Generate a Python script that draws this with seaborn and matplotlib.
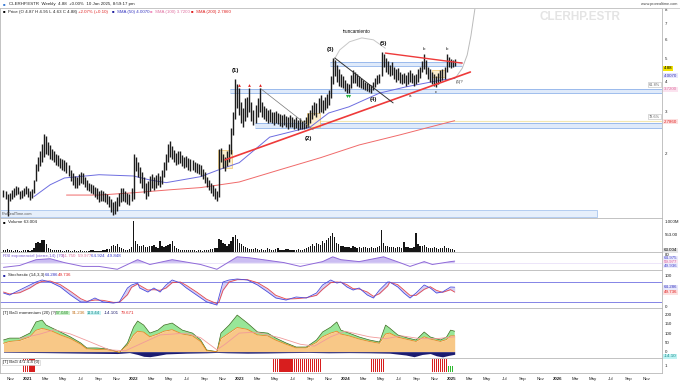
import numpy as np
import pandas as pd
import matplotlib
matplotlib.use("Agg")
import matplotlib.pyplot as plt
import matplotlib.dates as mdates
import matplotlib.transforms as mtransforms
from matplotlib.patches import Rectangle
from matplotlib.lines import Line2D
from matplotlib.ticker import FixedLocator, NullLocator, FixedFormatter
import seaborn as sns

# ---------------- data ----------------
first_week = "2020-10-09"
n_weeks = 223
bar_low = [
 1.33,1.30,1.10,1.28,1.30,1.32,1.35,1.36,1.30,1.31,1.34,1.36,1.33,1.29,1.31,1.38,
 1.55,1.70,1.78,1.85,1.95,2.00,1.98,1.90,1.88,1.85,1.80,1.78,1.75,1.72,1.70,1.66,
 1.62,1.55,1.48,1.44,1.45,1.48,1.52,1.50,1.46,1.42,1.40,1.38,1.36,1.33,1.30,1.26,
 1.28,1.27,1.26,1.24,1.20,1.15,1.12,1.13,1.16,1.22,1.26,1.28,1.26,1.24,1.23,1.28,
 1.30,1.70,1.60,1.52,1.45,1.38,1.30,1.34,1.40,1.44,1.42,1.45,1.48,1.46,1.50,1.60,
 1.72,1.85,1.95,1.90,1.85,1.80,1.82,1.84,1.78,1.75,1.76,1.72,1.70,1.72,1.68,1.66,
 1.65,1.62,1.58,1.52,1.46,1.42,1.38,1.34,1.30,1.27,1.32,1.85,1.75,1.70,1.78,1.85,
 2.00,2.40,2.80,3.10,2.90,2.70,2.60,2.75,2.85,3.00,2.75,2.65,2.70,2.85,3.00,2.85,
 2.80,2.75,2.70,2.72,2.68,2.65,2.70,2.66,2.62,2.60,2.63,2.58,2.55,2.60,2.58,2.54,
 2.56,2.52,2.55,2.54,2.55,2.56,2.60,2.70,2.80,2.90,2.85,2.95,3.00,2.95,3.05,3.10,
 3.20,3.40,3.90,4.20,4.00,3.85,3.80,3.75,3.65,3.60,3.60,3.75,3.95,3.95,3.85,3.80,
 3.75,3.72,3.68,3.65,3.62,3.60,3.68,3.80,3.90,3.95,4.20,4.60,4.40,4.30,4.20,4.25,
 4.10,4.00,4.05,3.95,3.90,3.95,3.85,3.90,4.00,3.95,3.85,3.90,4.00,4.15,4.40,4.50,
 4.30,4.10,4.00,3.90,3.85,3.80,3.90,4.00,4.05,4.10,4.40,4.60,4.55,4.60,4.63]
bar_high = [
 1.42,1.40,1.36,1.38,1.42,1.45,1.47,1.46,1.40,1.42,1.45,1.47,1.44,1.40,1.43,1.56,
 1.82,1.95,2.05,2.20,2.43,2.38,2.25,2.18,2.10,2.05,2.00,1.98,1.92,1.90,1.88,1.85,
 1.80,1.72,1.66,1.62,1.60,1.65,1.68,1.66,1.60,1.56,1.52,1.50,1.48,1.46,1.44,1.40,
 1.42,1.40,1.38,1.36,1.34,1.30,1.26,1.28,1.32,1.38,1.44,1.44,1.40,1.38,1.36,1.45,
 2.00,1.95,1.86,1.76,1.68,1.60,1.52,1.55,1.62,1.65,1.60,1.64,1.66,1.62,1.72,1.85,
 2.00,2.20,2.27,2.15,2.08,2.02,2.05,2.06,1.98,1.95,1.96,1.92,1.90,1.88,1.86,1.84,
 1.82,1.80,1.74,1.68,1.60,1.56,1.52,1.48,1.44,1.40,2.10,2.12,2.00,1.95,2.05,2.20,
 2.57,3.00,4.10,3.90,3.75,3.30,3.10,3.40,3.45,3.75,3.30,3.05,3.20,3.40,3.75,3.30,
 3.15,3.10,3.05,3.08,3.00,2.98,3.02,2.95,2.92,2.90,2.93,2.88,2.85,2.90,2.86,2.80,
 2.84,2.78,2.82,2.75,2.78,2.85,2.95,3.05,3.20,3.30,3.25,3.40,3.50,3.35,3.45,3.55,
 3.70,4.20,5.00,4.90,4.70,4.50,4.30,4.20,4.05,3.95,3.90,4.25,4.46,4.40,4.30,4.20,
 4.12,4.05,4.00,3.95,3.90,3.88,3.98,4.15,4.25,4.30,5.30,5.20,5.00,4.85,4.70,4.80,
 4.60,4.50,4.55,4.40,4.30,4.35,4.25,4.40,4.45,4.35,4.25,4.30,4.50,4.60,4.85,5.20,
 4.90,4.60,4.50,4.40,4.30,4.20,4.35,4.45,4.50,4.60,5.20,5.05,4.95,4.92,4.95]
volume_k = (
 [60,50,110,70,50,40,60,50,40,45,55,60,50,45,70,120]
 + [280,330,300,390,400,260]
 + [120,90,80,60,70,50,60,45,40,50,60,40,45,50,40,35,50,45,40,35,40,60,50,45,40,35,40,60,80,90,110]
 + [180,230,200,260,170,140]
 + [90,80,70,100,150]
 + [1000]
 + [350,260,200,180,240,170,150,200,180,230,160,140,370,200,150,180,220,250,370,200]
 + [120,90,70,60,80,60,50,70,60,50,45,60,50,40,60,80,70,90,100,120,140]
 + [420,380,300,250,200,260,350,480,550,420,300,250,200]
 + [150,120,100,90,110,140,100,80,90,70,60,120,90,80,70,100,130,80,70,60,90,110,80,70,60,80,100,70,60,90,120,150]
 + [200,260,180,300,250,220,350,280,400,450,520,600,480,300,250]
 + [200,180,150,170,160,140,180,150,130,160,140,170,150,130,120,160,140,130,150,180]
 + [720]
 + [300,200,180,160,150,170,140,160,150,130]
 + [330]
 + [150,170,140,130,160]
 + [620]
 + [260,200,180,240]
 + [150,130,120,140,160,130,110,120,140,180,130,120,100,110,63])

sma50_week = [15,23,30,47,64,72,80,97,106,116,131,151,160,170,185,198,215,222]
sma50_val = [1.33,1.49,1.59,1.64,1.62,1.56,1.52,1.61,1.72,1.84,2.35,2.59,2.96,3.14,3.58,3.80,4.05,4.12]
sma200_week = [31,47,64,82,97,116,136,156,175,195,210,222]
sma200_val = [1.35,1.35,1.38,1.42,1.45,1.53,1.72,1.93,2.18,2.40,2.59,2.75]

rsi_week = [0,8,16,23,30,39,47,56,66,72,83,97,105,115,121,138,146,157,162,166,175,187,195,200,207,211,220,222]
rsi_val = [31.7,39.4,62.8,66.7,51,35.5,35.5,23.9,62.8,43.3,62.8,43.3,23.9,74.4,70.5,51,35.5,55,74.4,62.8,55,74.4,51,35.5,55,43.3,55,57]

stoch_week = [0,3,8,13,16,19,23,28,33,38,41,45,49,54,57,61,63,66,67,71,74,77,80,83,87,90,95,100,105,106,
              108,111,115,120,125,130,134,139,144,149,154,157,161,164,166,169,172,175,179,182,185,189,190,194,197,200,
              203,207,210,213,216,220,222]
stoch_k = [47,41,56,71,80,86,80,65,41,20,20,32,20,17,20,62,71,77,62,50,62,50,71,86,77,62,41,20,11,35,
           80,86,89,86,71,50,32,26,35,32,47,71,86,77,80,65,56,62,41,32,56,80,80,65,47,32,47,71,62,47,50,65,64.3]
stoch_d = [50,44,48,62,74,82,83,72,52,30,22,26,25,19,19,42,64,74,70,56,57,55,62,78,80,70,50,28,15,20,
           55,80,87,87,78,60,40,29,30,33,40,58,78,80,79,72,60,59,50,37,45,68,79,72,56,40,40,58,66,55,49,57,49.7]

mom_week = [0,3,8,13,16,19,21,24,28,33,38,41,46,51,56,57,61,64,66,69,72,76,79,83,88,93,97,100,105,107,
            111,115,120,125,130,134,139,144,149,154,157,161,164,166,170,175,180,185,188,190,194,199,203,207,210,215,218,220,222]
mom_green = [63,73,73,100,160,170,143,127,106,79,47,20,20,15,0,-5,47,132,165,143,100,116,143,154,116,100,63,9,0,100,
             143,197,154,106,100,73,47,25,25,63,106,132,160,116,100,79,63,52,143,127,90,73,63,106,79,63,79,116,110]
mom_orange = [45,55,60,80,115,125,120,110,90,70,40,15,12,10,0,-3,35,90,110,105,80,95,110,118,95,85,55,5,0,70,
              100,130,120,90,85,62,40,20,20,50,80,100,110,95,85,68,55,45,95,100,78,65,55,80,68,55,65,85,85]
mom_slow_week = [8,18,25,33,41,52,60,67,77,90,97,105,109,116,124,136,146,153,161,168,180,188,196,205,213,222]
mom_slow = [70,95,118,95,60,10,5,40,90,100,75,10,40,100,105,75,40,30,80,110,80,70,85,70,70,80]
mom_neg_week = [0,20,40,56,62,66,69,72,76,80,90,100,105,110,120,130,140,150,160,170,180,190,198,202,206,210,213,216,219,222]
mom_neg = [-3,-5,-8,-10,-5,-15,-25,-27,-20,-12,-8,-6,-4,-6,-8,-7,-5,-4,-6,-5,-6,-8,-18,-27,-15,-10,-22,-28,-20,-14]

signal_red_ranges = [(10, 15), (133, 156), (181, 187), (211, 218)]
signal_green_ranges = [(219, 221)]

zones = [("2022-11-29", "2026-12-25", 3.58, 3.72),
         ("2023-02-23", "2026-12-25", 2.56, 2.69),
         ("2023-11-07", "2025-02-05", 4.64, 4.82)]
boxes = [("2022-10-18", "2022-12-05", 1.75, 2.08),
         ("2023-08-21", "2023-10-05", 2.59, 2.96),
         ("2024-10-24", "2024-12-08", 4.18, 4.45)]
red_lower = (["2022-11-11", "2025-03-05"], [1.89, 4.38])
red_upper = (["2024-05-16", "2025-02-05"], [5.25, 4.77])
black_line = (["2023-11-24", "2024-06-12"], [5.01, 3.26])
gray_line = (["2023-03-12", "2023-09-11"], [3.75, 2.52])
proj_curve = (["2025-01-12", "2025-02-05", "2025-02-22", "2025-03-07", "2025-03-21"], [4.13, 4.54, 5.15, 6.2, 8.08])
trunc_arc = (["2023-11-17", "2023-12-11", "2024-01-14", "2024-02-25", "2024-04-05", "2024-05-16"],
             [4.82, 5.41, 5.85, 6.07, 5.96, 5.5])
wave_labels = [("(1)", 114, 4.45), ("(2)", 150, 2.33), ("(3)", 161, 5.45), ("(4)", 182, 3.38),
               ("(5)", 187, 5.75)]
small_labels = [("a", 200, 3.47), ("b", 207, 5.45), ("b", 218, 5.45), ("c", 213, 3.62)]
red_tops = [116, 121, 126]
green_lows = [169, 170]

# ---------------- style ----------------
sns.set_theme(style="white")
plt.rcParams['font.family'] = ['Liberation Sans', 'DejaVu Sans']
plt.rcParams['axes.linewidth'] = 0.6

W, H = 680, 383
FS = 3.2
weeks = pd.date_range(first_week, periods=n_weeks, freq="7D")
X0, X1 = pd.Timestamp("2020-09-27"), pd.Timestamp("2026-12-25")
RIGHT = 662

fig = plt.figure(figsize=(6.8, 3.83), dpi=100)
fig.patch.set_facecolor("white")


def panel(top, bottom):
    ax = fig.add_axes([0, 1 - bottom / H, RIGHT / W, (bottom - top) / H])
    ax.set_facecolor("white")
    ax.set_xlim(X0, X1)
    for s in ax.spines.values():
        s.set_color("#b8b8b8")
        s.set_linewidth(0.6)
    ax.yaxis.tick_right()
    ax.tick_params(axis="y", length=0, labelsize=FS, pad=1.8, colors="#222222")
    ax.xaxis.set_major_locator(NullLocator())
    ax.grid(False)
    return ax


def ft(x, y, s, **kw):
    kw.setdefault("fontsize", FS)
    kw.setdefault("va", "center")
    return fig.text(x / W, 1 - y / H, s, **kw)


def rlabel(ax, y, s, fc, tc="black"):
    tr = mtransforms.blended_transform_factory(ax.transAxes, ax.transData)
    ax.text(1.003, y, s, transform=tr, fontsize=FS, va="center", ha="left", color=tc,
            clip_on=False, bbox=dict(boxstyle="square,pad=0.12", fc=fc, ec="none"))


def sline(ax, x, y, color, lw=0.6, **kw):
    sns.lineplot(x=x, y=y, ax=ax, color=color, linewidth=lw, errorbar=None, **kw)
    ax.set_xlabel("")
    ax.set_ylabel("")


D = pd.to_datetime

# ---------------- price ----------------
axp = panel(8, 218)
axp.set_yscale("log")
axp.set_ylim(1.084, 8.08)
for d0, d1, lo, hi in zones:
    axp.fill_between([D(d0), D(d1)], lo, hi, color="#dfeafa", lw=0, zorder=1)
    axp.hlines([lo, hi], D(d0), D(d1), color="#8fb3ea", lw=0.6, zorder=1)
axp.hlines(2.74, D("2023-07-28"), X1, color="#f3e7b0", lw=0.8, zorder=1)
for d0, d1, lo, hi in boxes:
    x0 = mdates.date2num(D(d0))
    axp.add_patch(Rectangle((x0, lo), mdates.date2num(D(d1)) - x0, hi - lo,
                            fc="#fcefcf", ec="#efc46a", lw=0.5, zorder=1.5))
sline(axp, weeks[sma200_week], sma200_val, "#f06a6a", 0.7)
sline(axp, weeks[sma50_week], sma50_val, "#6d6de0", 0.7)
axp.vlines(weeks, bar_low, bar_high, colors="#1c1c1c", lw=1.0, zorder=3)
axp.plot(D(red_lower[0]), red_lower[1], color="#ee3a3a", lw=1.2, zorder=4)
axp.plot(D(red_upper[0]), red_upper[1], color="#ee3a3a", lw=1.0, zorder=4)
axp.plot(D(black_line[0]), black_line[1], color="#333333", lw=0.7, zorder=4)
axp.plot(D(gray_line[0]), gray_line[1], color="#777777", lw=0.5, zorder=4)
axp.plot(D(proj_curve[0]), proj_curve[1], color="#bbbbbb", lw=0.7, zorder=2)
axp.plot(D(trunc_arc[0]), trunc_arc[1], color="#c8c8c8", lw=0.7, zorder=2)
axp.scatter(weeks[red_tops], [bar_high[i] * 1.035 for i in red_tops], marker="^", s=4, color="#e02020", zorder=5, lw=0)
axp.scatter(weeks[green_lows], [bar_low[i] * 0.965 for i in green_lows], marker="v", s=5, color="#20b040", zorder=5, lw=0)
for s, i, p in wave_labels:
    axp.text(weeks[i], p, s, fontsize=4.4, ha="center", va="center", color="#111111", fontweight="bold", zorder=6)
for s, i, p in small_labels:
    axp.text(weeks[i], p, s, fontsize=3.2, ha="center", va="center", color="#222222", zorder=6)
axp.text(weeks[174], 6.45, "truncamiento", fontsize=3.4, ha="center", va="center", color="#111111")
axp.text(D("2025-01-14"), 3.98, "(5)?", fontsize=3.2, ha="left", va="center", color="#333333")
axp.yaxis.set_major_locator(FixedLocator([2, 3, 4, 5, 6, 7, 8]))
axp.yaxis.set_major_formatter(FixedFormatter(["2", "3", "4", "5", "6", "7", "8"]))
axp.yaxis.set_minor_locator(NullLocator())
rlabel(axp, 4.55, "4.88", "#f5e600")
rlabel(axp, 4.22, "4.0070", "#e8e8fb", "#3535c0")
rlabel(axp, 3.72, "3.7200", "#fbe3ef", "#e070a0")
rlabel(axp, 2.72, "2.7860", "#fde0e0", "#e02020")
trb = mtransforms.blended_transform_factory(axp.transAxes, axp.transData)
for p, s in [(3.88, "61.8%"), (2.86, "78.6%")]:
    axp.text(0.997, p, s, transform=trb, fontsize=2.8, ha="right", va="center", color="#666666",
             bbox=dict(boxstyle="square,pad=0.2", fc="white", ec="#bbbbbb", lw=0.4))
axp.add_patch(Rectangle((0, 0.005), 597 / RIGHT, 0.033, transform=axp.transAxes,
                        fc="#e6effb", ec="#a9c6ee", lw=0.6, zorder=0.5))
axp.text(0.002, 0.02, "ProRealTime.com", transform=axp.transAxes, fontsize=2.8, color="#555555", va="center")
axp.text(0.876, 0.958, "CLERHP.ESTR", transform=axp.transAxes, fontsize=8.5, color="#e4e4e4",
         fontweight="bold", ha="center", va="center", zorder=0.2)

# ---------------- volume ----------------
axv = panel(218, 252)
axv.bar(weeks, np.array(volume_k) * 1000, width=4.5, color="#151515", lw=0)
axv.set_ylim(0, 1100000)
axv.yaxis.set_major_locator(FixedLocator([553000, 1000000]))
axv.yaxis.set_major_formatter(FixedFormatter(["553.00", "1.000M"]))
rlabel(axv, 63004, "63.004", "#e6e6e6")

# ---------------- RSI ----------------
axr = panel(252, 270)
axr.set_ylim(21, 94)
rw = weeks[rsi_week]
axr.fill_between(rw, 50, rsi_val, where=np.array(rsi_val) > 50, interpolate=True, color="#cbbdf2", lw=0)
axr.axhline(50, color="#e4daf7", lw=0.5)
sline(axr, rw, rsi_val, "#8f6ad8", 0.7)
axr.yaxis.set_major_locator(FixedLocator([82]))
axr.yaxis.set_major_formatter(FixedFormatter(["80"]))
rlabel(axr, 69, "64.975", "#ececfb", "#4040d0")
rlabel(axr, 52, "59.977", "#fbe6f0", "#d060a0")
rlabel(axr, 39, "49.936", "#ececfb", "#4040d0")

# ---------------- stochastic ----------------
axs = panel(270, 308)
axs.set_ylim(2, 116)
sw = weeks[stoch_week]
axs.fill_between(sw, stoch_k, stoch_d, color="#d4cff3", lw=0)
axs.axhline(80, color="#8484e6", lw=0.7)
axs.axhline(20, color="#8484e6", lw=0.7)
sline(axs, sw, stoch_d, "#e8474a", 0.6)
sline(axs, sw, stoch_k, "#4c4cdc", 0.6)
axs.yaxis.set_major_locator(FixedLocator([100, 5]))
axs.yaxis.set_major_formatter(FixedFormatter(["100", "0"]))
rlabel(axs, 64.3, "64.286", "#e8e8fb", "#3535c0")
rlabel(axs, 49.7, "49.736", "#fde0e0", "#e02020")

# ---------------- momentum area ----------------
axm = panel(308, 358)
axm.set_ylim(-34, 235)
mw = weeks[mom_week]
g = np.array(mom_green, float)
o = np.array(mom_orange, float)
axm.fill_between(mw, 0, o, color="#f8c887", lw=0)
axm.fill_between(mw, o, g, where=g >= o, interpolate=True, color="#98e698", lw=0)
sline(axm, mw, g, "#3f6a22", 0.5)
sline(axm, mw, o, "#e8861e", 0.6)
sline(axm, weeks[mom_slow_week], mom_slow, "#f19a9a", 0.6)
axm.fill_between(weeks[mom_neg_week], mom_neg, 0, color="#1c1c70", lw=0)
axm.yaxis.set_major_locator(FixedLocator([0, 50, 100, 150, 200]))
axm.yaxis.set_major_formatter(FixedFormatter(["0", "50", "100", "150", "200"]))
rlabel(axm, -24, "-14.10", "#bff3f3", "#1a8a8a")

# ---------------- signal ----------------
axg = panel(358, 373)
axg.set_ylim(0, 1)
for a, b in signal_red_ranges:
    axg.bar(weeks[a:b + 1], 0.86, bottom=0.07, width=4.2, color="#d81e1e", lw=0)
for a, b in signal_green_ranges:
    axg.bar(weeks[a:b + 1], 0.4, bottom=0.07, width=4.2, color="#2eb82e", lw=0)
axg.yaxis.set_major_locator(FixedLocator([0.5]))
axg.yaxis.set_major_formatter(FixedFormatter(["1"]))
ticks = pd.date_range("2020-11-01", "2026-11-01", freq="2MS")
axg.set_xticks(ticks)
labels = [str(t.year) if t.month == 1 else t.strftime("%b") for t in ticks]
axg.set_xticklabels(labels)
axg.tick_params(axis="x", length=0, labelsize=FS, pad=3, colors="#222222")
for lab, t in zip(axg.get_xticklabels(), ticks):
    if t.month == 1:
        lab.set_fontweight("bold")
axg.set_xlim(X0, X1)

# ---------------- header / panel labels ----------------
fig.add_artist(Line2D([0, 1], [1 - 7.5 / H, 1 - 7.5 / H], color="#c8c8c8", lw=0.6))
ft(3, 4, "\u25a0", color="#3a7bd5", fontsize=3.0)
ft(9, 4, "CLERHP.ESTR  Weekly  4.88  +0.00%  10 Jan 2025, 8:59:17 pm", color="#222222")
ft(677, 4, "www.prorealtime.com", ha="right", color="#444444", fontsize=2.8)
ft(3, 11.5, "\u25a0", color="black", fontsize=3.0)
ft(8, 11.5, "Price (O 4.87 H 4.95 L 4.63 C 4.88)", color="#222222")
ft(78, 11.5, "+2.07% (+0.10)", color="#e02020")
ft(112, 11.5, "\u25a0", color="#2020a0", fontsize=3.0)
ft(117, 11.5, "SMA (50) 4.0070", color="#3535c0")
ft(150, 11.5, "\u25a0", color="#f090c0", fontsize=3.0)
ft(155, 11.5, "SMA (100) 3.7200", color="#e070a0")
ft(191, 11.5, "\u25a0", color="#e02020", fontsize=3.0)
ft(196, 11.5, "SMA (200) 2.7860", color="#e02020")
ft(3, 222.5, "\u25a0", color="black", fontsize=3.0)
ft(8, 222.5, "Volume 63.004", color="#222222")
ft(3, 256, "RSI exponencial (cierre,14) (70)", color="#7a5ad0")
ft(62, 256, "61.750  59.977", color="#e070a0")
ft(91, 256, "64.924  49.848", color="#4040d0")
ft(3, 275, "\u25a0", color="#2020a0", fontsize=3.0)
ft(8, 275, "Stochastic (14,3,3)", color="#222222")
ft(45, 275, "64.286", color="#3535c0")
ft(58, 275, "49.736", color="#e02020")
ft(3, 313, "[T] BaG momentum (20) (?)", color="#222222")
ft(56, 313, "57.040", color="#2a8a2a", bbox=dict(boxstyle="square,pad=0.1", fc="#c8f0c8", ec="none"))
ft(72, 313, "91.236", color="#c06a10")
ft(87, 313, "113.44", color="#1a8a8a", bbox=dict(boxstyle="square,pad=0.1", fc="#c8f3f3", ec="none"))
ft(104, 313, "-14.101", color="#202070")
ft(121, 313, "79.671", color="#e02020")
ft(3, 362.5, "[T] BaG 4/1 4.4 (0)", color="#222222",
   bbox=dict(boxstyle="square,pad=0.2", fc="white", ec="#c8c8c8", lw=0.4))

fig.savefig("out.png", dpi=100, facecolor="white")
